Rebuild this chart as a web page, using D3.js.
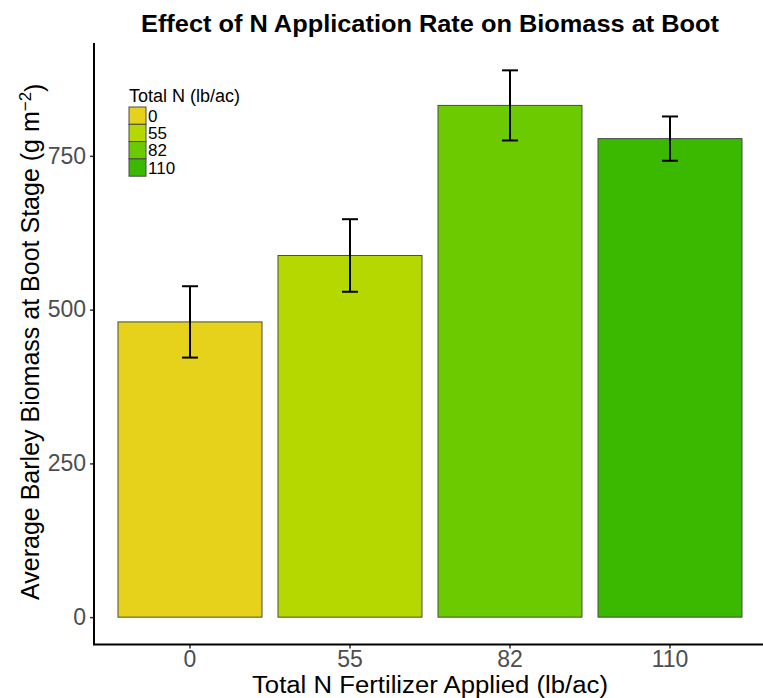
<!DOCTYPE html>
<html>
<head>
<meta charset="utf-8">
<script src="https://cdn.jsdelivr.net/npm/d3@7"></script>
<style>
  html, body { margin: 0; padding: 0; background: #fff; }
  svg { display: block; font-family: "Liberation Sans", Arial, sans-serif; }
</style>
</head>
<body>
<svg id="chart" width="763" height="698"></svg>
<script>
// Nitrogen rate treatments (lb/ac) and boot-stage biomass (g m^-2)
const categories = ["0", "55", "82", "110"];
const biomassMean = [480, 588, 832, 778];
const biomassSE = [58, 59, 57, 36];
const barColors = ["#E6D21B", "#B5D900", "#6CCB00", "#3BB800"];
const yTicks = [0, 250, 500, 750];

const svg = d3.select("#chart");
const W = 763, H = 698;
const panel = { left: 94, right: 766, top: 43, bottom: 644.5 };

// Discrete x: 0.6 step of padding at each end, bars 0.9 of the step
const x = d3.scaleBand()
  .domain(categories)
  .range([panel.left, panel.right])
  .paddingInner(0.1)
  .paddingOuter(0.15);

// Continuous y with 5% expansion on the data range (0 .. highest error bar)
const yMax = d3.max(biomassMean, (d, i) => d + biomassSE[i]);
const pad = 0.05 * yMax;
const y = d3.scaleLinear()
  .domain([-pad, yMax + pad])
  .range([panel.bottom, panel.top]);

// Bars
svg.append("g")
  .selectAll("rect")
  .data(categories)
  .join("rect")
  .attr("x", d => x(d))
  .attr("width", x.bandwidth())
  .attr("y", (d, i) => y(biomassMean[i]))
  .attr("height", (d, i) => y(0) - y(biomassMean[i]))
  .attr("fill", (d, i) => barColors[i])
  .attr("stroke", "#4a4a4a")
  .attr("stroke-width", 1);

// Error bars (mean ± SE)
const capHalf = 8;
const eb = svg.append("g").attr("stroke", "#000").attr("stroke-width", 2).attr("fill", "none");
categories.forEach((c, i) => {
  const cx = x(c) + x.bandwidth() / 2;
  const lo = y(biomassMean[i] - biomassSE[i]);
  const hi = y(biomassMean[i] + biomassSE[i]);
  eb.append("line").attr("x1", cx).attr("x2", cx).attr("y1", lo).attr("y2", hi);
  eb.append("line").attr("x1", cx - capHalf).attr("x2", cx + capHalf).attr("y1", lo).attr("y2", lo);
  eb.append("line").attr("x1", cx - capHalf).attr("x2", cx + capHalf).attr("y1", hi).attr("y2", hi);
});

// Y axis
const yAxis = svg.append("g")
  .attr("transform", `translate(${panel.left},0)`)
  .call(d3.axisLeft(y).tickValues(yTicks).tickSize(4).tickPadding(4).tickFormat(d3.format("d")));
yAxis.select(".domain").remove();
yAxis.selectAll(".tick line").attr("stroke", "#333").attr("stroke-width", 1.5);
yAxis.selectAll(".tick text")
  .attr("fill", "#4d4d4d")
  .style("font-size", "23px")
  .style("font-family", "Liberation Sans, Arial, sans-serif");
svg.append("line")
  .attr("x1", panel.left).attr("x2", panel.left)
  .attr("y1", panel.top).attr("y2", panel.bottom)
  .attr("stroke", "#000").attr("stroke-width", 2);

// X axis
const xAxis = svg.append("g")
  .attr("transform", `translate(0,${panel.bottom})`)
  .call(d3.axisBottom(x).tickSize(4).tickPadding(4));
xAxis.select(".domain").remove();
xAxis.selectAll(".tick line").attr("stroke", "#333").attr("stroke-width", 1.5);
xAxis.selectAll(".tick text")
  .attr("fill", "#4d4d4d")
  .attr("y", 22)
  .attr("dy", 0)
  .style("font-size", "23px")
  .style("font-family", "Liberation Sans, Arial, sans-serif");
svg.append("line")
  .attr("x1", panel.left - 1).attr("x2", W)
  .attr("y1", panel.bottom).attr("y2", panel.bottom)
  .attr("stroke", "#000").attr("stroke-width", 2);

// Title
const cxPanel = (panel.left + panel.right) / 2;
svg.append("text")
  .attr("x", cxPanel).attr("y", 32)
  .attr("text-anchor", "middle")
  .style("font-size", "23px").style("font-weight", "bold")
  .attr("textLength", 578).attr("lengthAdjust", "spacingAndGlyphs")
  .text("Effect of N Application Rate on Biomass at Boot");

// Axis titles
svg.append("text")
  .attr("x", cxPanel).attr("y", 693)
  .attr("text-anchor", "middle")
  .style("font-size", "23px")
  .attr("textLength", 356).attr("lengthAdjust", "spacingAndGlyphs")
  .text("Total N Fertilizer Applied (lb/ac)");

const yl = svg.append("text")
  .attr("transform", `translate(39,${(panel.top + panel.bottom) / 2 - 2}) rotate(-90)`)
  .attr("text-anchor", "middle")
  .style("font-size", "25px");
yl.append("tspan").text("Average Barley Biomass at Boot Stage (g m");
yl.append("tspan").attr("dy", "-0.45em").style("font-size", "17px").text("\u22122");
yl.append("tspan").attr("dy", "0.45em").text(")");

// Legend
const lg = svg.append("g").attr("transform", "translate(129,0)");
lg.append("text").attr("x", 0).attr("y", 102)
  .style("font-size", "18px").text("Total N (lb/ac)");
const keyH = 17.3, keyW = 17, keyTop = 107;
categories.forEach((c, i) => {
  lg.append("rect")
    .attr("x", 0).attr("y", keyTop + i * keyH)
    .attr("width", keyW).attr("height", keyH)
    .attr("fill", barColors[i])
    .attr("stroke", "#4a4a4a").attr("stroke-width", 1);
  lg.append("text")
    .attr("x", keyW + 2).attr("y", keyTop + i * keyH + keyH / 2)
    .attr("dy", "0.36em")
    .style("font-size", "17px")
    .text(c);
});
</script>
</body>
</html>
